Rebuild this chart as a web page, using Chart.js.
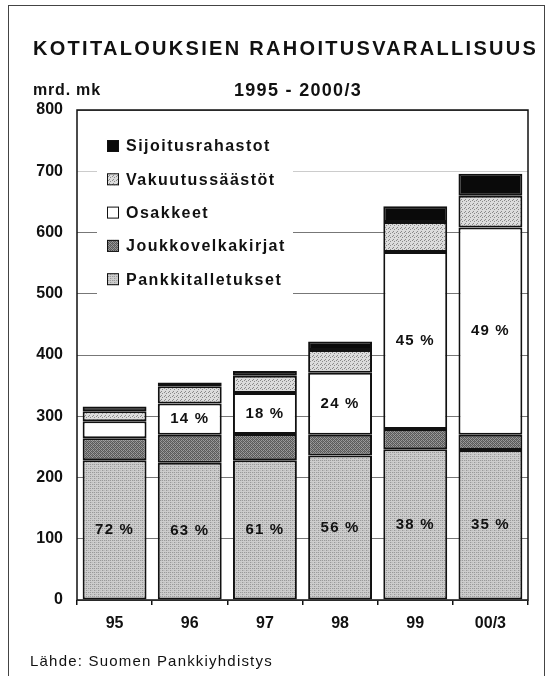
<!DOCTYPE html>
<html>
<head>
<meta charset="utf-8">
<title>Kotitalouksien rahoitusvarallisuus</title>
<script src="https://cdn.jsdelivr.net/npm/chart.js@4.4.0/dist/chart.umd.min.js"></script>
<style>
    html, body { margin: 0; padding: 0; background: #fff; }
    body {
        width: 551px; height: 676px; position: relative; overflow: hidden;
        font-family: "Liberation Sans", Arial, sans-serif; color: #111;
    }
    .frame { position: absolute; left: 8px; top: 5px; width: 535px; height: 720px; border: 1.5px solid #444; }
    #chart { position: absolute; left: 0; top: 0; }
    .txt { position: absolute; white-space: nowrap; font-weight: bold; }
    .title { left: 33px; top: 37px; font-size: 20px; letter-spacing: 2.3px; }
    .unit { left: 33px; top: 81px; font-size: 16px; letter-spacing: 0.8px; }
    .period { left: 234px; top: 80px; font-size: 18px; letter-spacing: 1.3px; }
    .source { left: 30px; top: 652px; font-size: 15px; font-weight: normal; letter-spacing: 1.2px; }
</style>
</head>
<body>
<div class="frame"></div>
<canvas id="chart" width="551" height="676"></canvas>
<div class="txt title">KOTITALOUKSIEN RAHOITUSVARALLISUUS</div>
<div class="txt unit">mrd. mk</div>
<div class="txt period">1995 - 2000/3</div>
<div class="txt source">Lähde: Suomen Pankkiyhdistys</div>

<script>
// ===== Data (mrd. mk) =====
const years = ['95', '96', '97', '98', '99', '00/3'];
const pankkitalletukset = [228, 224, 228, 236, 246, 245];
const joukkovelkakirjat = [36, 46, 43, 34, 33, 25];
const osakkeet = [28, 51, 67, 101, 289, 338];
const vakuutussaastot = [16, 28, 28, 37, 49, 52];
const sijoitusrahastot = [8, 6, 8, 14, 26, 36];

const ctx = document.getElementById('chart').getContext('2d');

// Small pixel tiles used as halftone-like fills
function makePattern(rows, shades) {
    const c = document.createElement('canvas');
    c.width = rows[0].length;
    c.height = rows.length;
    const g = c.getContext('2d');
    rows.forEach((row, y) => {
        [...row].forEach((ch, x) => {
            g.fillStyle = shades[ch];
            g.fillRect(x, y, 1, 1);
        });
    });
    return ctx.createPattern(c, 'repeat');
}

const fills = {
    pankki: makePattern(
        ['acab', 'bbbb', 'cbac', 'bbbb'],
        { a: '#9a9a9a', b: '#cdcdcd', c: '#bdbdbd' }
    ),
    joukko: makePattern(
        ['abab', 'baca', 'abab', 'caba'],
        { a: '#5a5a5a', b: '#9a9a9a', c: '#777777' }
    ),
    osakkeet: '#ffffff',
    vakuutus: makePattern(
        ['abbb', 'bbab', 'bbbb', 'babb'],
        { a: '#8a8a8a', b: '#dcdcdc' }
    ),
    sijoitus: '#0a0a0a'
};

function series(label, data, fill) {
    return {
        label: label,
        data: data,
        backgroundColor: fill,
        borderColor: '#111',
        borderWidth: 2,
        borderSkipped: false,
        categoryPercentage: 1,
        barPercentage: 0.85
    };
}

// Legend drawn inside the plot on a white box
const boxLegend = {
    id: 'boxLegend',
    beforeDatasetsDraw(chart, args, opts) {
        const c = chart.ctx;
        c.save();
        c.fillStyle = '#fff';
        c.fillRect(opts.left, opts.top, opts.width, opts.height);
        c.font = 'bold 16px "Liberation Sans", Arial, sans-serif';
        c.letterSpacing = '1.5px';
        c.textBaseline = 'middle';
        const items = chart.data.datasets.slice().reverse();
        items.forEach((ds, i) => {
            const y = opts.firstRow + i * opts.rowStep;
            c.fillStyle = ds.backgroundColor;
            c.fillRect(opts.left + 10, y - 6, 12, 12);
            c.strokeStyle = '#111';
            c.lineWidth = 1;
            c.strokeRect(opts.left + 10.5, y - 5.5, 11, 11);
            c.fillStyle = '#111';
            c.fillText(ds.label, opts.left + 29, y + 1);
        });
        c.restore();
    }
};

// Share labels inside the deposit and share segments
const shareLabels = {
    id: 'shareLabels',
    afterDatasetsDraw(chart, args, opts) {
        const c = chart.ctx;
        c.save();
        c.font = 'bold 15px "Liberation Sans", Arial, sans-serif';
        c.letterSpacing = '1.2px';
        c.textAlign = 'center';
        c.textBaseline = 'middle';
        c.fillStyle = '#111';
        opts.datasets.forEach(di => {
            const meta = chart.getDatasetMeta(di);
            meta.data.forEach((bar, i) => {
                const total = chart.data.datasets.reduce((s, ds) => s + ds.data[i], 0);
                const share = chart.data.datasets[di].data[i] / total;
                if (share < 0.1) return;
                c.fillText(Math.round(share * 100) + ' %', bar.x, (bar.y + bar.base) / 2);
            });
        });
        c.restore();
    }
};

// Frame around the plot area; also sets tick-label spacing before layout
const plotFrame = {
    id: 'plotFrame',
    beforeInit(chart) {
        chart.ctx.letterSpacing = '1.5px';
    },
    afterDraw(chart) {
        const a = chart.chartArea;
        const c = chart.ctx;
        c.save();
        c.strokeStyle = '#111';
        c.lineWidth = 1.5;
        c.strokeRect(a.left, a.top, a.right - a.left, a.bottom - a.top);
        c.restore();
    }
};

new Chart(ctx, {
    type: 'bar',
    data: {
        labels: years,
        datasets: [
            series('Pankkitalletukset', pankkitalletukset, fills.pankki),
            series('Joukkovelkakirjat', joukkovelkakirjat, fills.joukko),
            series('Osakkeet', osakkeet, fills.osakkeet),
            series('Vakuutussäästöt', vakuutussaastot, fills.vakuutus),
            series('Sijoitusrahastot', sijoitusrahastot, fills.sijoitus)
        ]
    },
    options: {
        responsive: false,
        animation: false,
        devicePixelRatio: 1,
        layout: { padding: { top: 110, right: 23, bottom: 0, left: 0 } },
        plugins: {
            legend: { display: false },
            tooltip: { enabled: false },
            boxLegend: { left: 97, top: 130, width: 196, height: 165, firstRow: 146, rowStep: 33.3 },
            shareLabels: { datasets: [0, 2] }
        },
        scales: {
            x: {
                stacked: true,
                afterFit: (scale) => { scale.height = 76; },
                grid: { drawOnChartArea: false, tickLength: 5, color: '#111', lineWidth: 1.5 },
                border: { display: false },
                ticks: {
                    color: '#111',
                    padding: 9,
                    font: { family: '"Liberation Sans", Arial, sans-serif', size: 16, weight: 'bold' }
                }
            },
            y: {
                stacked: true,
                min: 0,
                max: 800,
                afterFit: (scale) => { scale.width = 77; },
                grid: {
                    color: (c) => c.tick.value === 700 ? 'rgba(0,0,0,0.2)' : '#777',
                    lineWidth: 1,
                    drawTicks: false,
                    tickLength: 0
                },
                border: { display: false },
                ticks: {
                    stepSize: 100,
                    color: '#111',
                    padding: 14,
                    font: { family: '"Liberation Sans", Arial, sans-serif', size: 16, weight: 'bold' }
                }
            }
        }
    },
    plugins: [boxLegend, shareLabels, plotFrame]
});
</script>
</body>
</html>
